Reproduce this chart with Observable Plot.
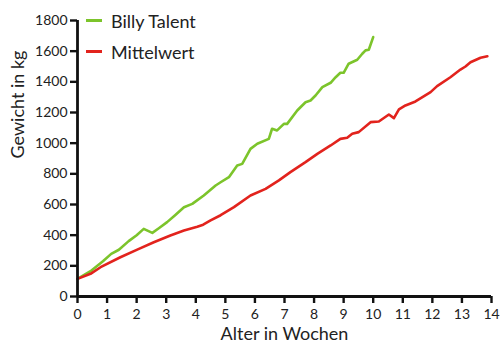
<!DOCTYPE html>
<html>
<head>
<meta charset="utf-8">
<script src="https://cdn.jsdelivr.net/npm/d3@7"></script>
<script src="https://cdn.jsdelivr.net/npm/@observablehq/plot@0.6"></script>
<style>
  html, body { margin: 0; padding: 0; background: #fff; }
  #wrap { position: relative; width: 500px; height: 357px; }
  .legend { position: absolute; left: 86px; top: 5px; font-family: Lato, sans-serif; font-size: 18px; color: #222; }
  .legend div { display: flex; align-items: center; height: 31px; }
  .legend span.sw { display: inline-block; width: 16px; height: 3px; margin-right: 9px; }
</style>
</head>
<body>
<div id="wrap"></div>
<script>
const seriesNames = ["Billy Talent", "Mittelwert"];
const seriesColors = ["#7cc42b", "#e2231d"];
const xTicks = [0,1,2,3,4,5,6,7,8,9,10,11,12,13,14];
const yTicks = [0,200,400,600,800,1000,1200,1400,1600,1800];

const billyWeeks = [0,0.44,0.86,1.14,1.40,1.73,2.0,2.24,2.53,2.75,3.03,3.30,3.60,3.88,4.27,4.67,4.84,5.12,5.40,5.57,5.85,6.08,6.47,6.58,6.75,6.98,7.09,7.43,7.71,7.88,8.05,8.28,8.56,8.73,8.89,9.00,9.17,9.46,9.63,9.74,9.85,10.0];
const billyKg =    [115,165,230,278,305,361,400,441,415,445,485,530,582,604,659,724,745,778,854,865,963,996,1028,1094,1083,1126,1126,1213,1267,1278,1311,1365,1394,1430,1459,1459,1518,1544,1583,1605,1609,1692];

const meanWeeks = [0,0.44,0.78,1.45,2.02,2.58,3.14,3.60,4.05,4.25,4.50,4.84,5.29,5.85,6.36,6.81,7.20,7.71,8.11,8.56,8.89,9.12,9.29,9.51,9.91,10.19,10.53,10.70,10.87,11.09,11.43,11.94,12.16,12.61,12.95,13.12,13.29,13.63,13.86];
const meanKg =    [115,148,191,256,306,354,398,430,455,468,496,530,583,659,702,757,811,876,930,985,1028,1035,1061,1072,1137,1141,1187,1163,1220,1246,1272,1333,1372,1430,1480,1500,1528,1557,1567];

const data = [
  ...billyWeeks.map((w, i) => ({w, kg: billyKg[i], s: seriesNames[0]})),
  ...meanWeeks.map((w, i) => ({w, kg: meanKg[i], s: seriesNames[1]}))
];

const font = "Lato, sans-serif";
const chart = Plot.plot({
  width: 500,
  height: 357,
  marginLeft: 77,
  marginRight: 9,
  marginTop: 20,
  marginBottom: 61,
  style: {fontFamily: font, fontSize: "14px", color: "#222", background: "#fff"},
  x: {domain: [0, 14], ticks: xTicks, label: null},
  y: {domain: [0, 1800], ticks: yTicks, label: null},
  color: {domain: seriesNames, range: seriesColors},
  marks: [
    Plot.line(data, {x: "w", y: "kg", z: "s", stroke: "s", strokeWidth: 2.6, curve: "linear"}),
    Plot.axisX({ticks: xTicks, tickFormat: d => String(d), tickSize: 7, tickPadding: 6, strokeWidth: 2.4, stroke: "#111", fontSize: 14, label: null}),
    Plot.axisY({ticks: yTicks, tickFormat: d => String(d), tickSize: 7, tickPadding: 3, strokeWidth: 2.4, stroke: "#111", fontSize: 14, label: null}),
    Plot.ruleX([0], {stroke: "#111", strokeWidth: 2.8}),
    Plot.ruleY([0], {stroke: "#111", strokeWidth: 2.8}),
    Plot.text(["Alter in Wochen"], {frameAnchor: "bottom", dy: 43, fontSize: 18, fill: "#222"}),
    Plot.text(["Gewicht in kg"], {frameAnchor: "left", dx: -59, rotate: -90, fontSize: 18, fill: "#222"})
  ]
});
const wrap = document.getElementById("wrap");
wrap.appendChild(chart);
const legend = document.createElement("div");
legend.className = "legend";
seriesNames.forEach((n, i) => {
  const row = document.createElement("div");
  const sw = document.createElement("span");
  sw.className = "sw";
  sw.style.background = seriesColors[i];
  row.appendChild(sw);
  row.appendChild(document.createTextNode(n));
  legend.appendChild(row);
});
wrap.appendChild(legend);
</script>
</body>
</html>
